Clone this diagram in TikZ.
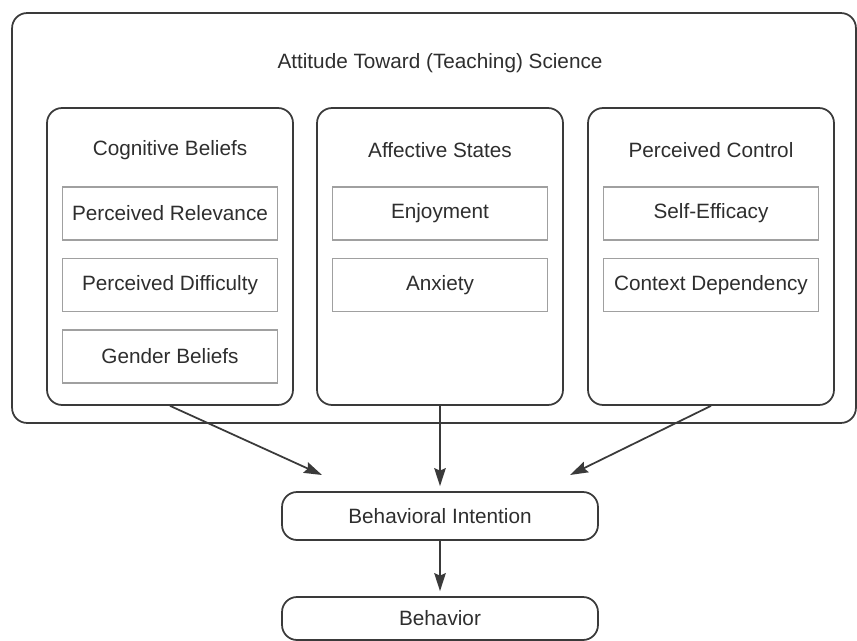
\documentclass[tikz,border=0pt]{standalone}
\usepackage{fontspec}
\setmainfont{Liberation Sans}
\usepackage{tikz}
\usetikzlibrary{arrows.meta,positioning,calc}
\definecolor{linec}{HTML}{3A3A3A}
\definecolor{boxc}{HTML}{A0A0A0}
\definecolor{textc}{HTML}{2E2E2E}
\tikzset{
  >={Stealth[length=3.6mm,width=2.3mm,inset=0.5mm]},
  outerbox/.style={draw=linec,line width=1pt,rounded corners=3mm,minimum width=16.88cm,minimum height=8.2cm,inner sep=0pt},
  groupbox/.style={draw=linec,line width=1pt,rounded corners=3mm,minimum width=4.92cm,minimum height=5.94cm,inner sep=0pt},
  itembox/.style={draw=boxc,line width=1pt,fill=white,minimum width=4.3cm,minimum height=1.06cm,inner sep=0pt,font=\fontsize{11.8}{14}\selectfont,text=textc},
  flowbox/.style={draw=linec,line width=1pt,rounded corners=3mm,minimum width=6.32cm,minimum height=0.96cm,inner sep=0pt,font=\fontsize{11.8}{14}\selectfont,text=textc},
  gtitle/.style={font=\fontsize{11.8}{14}\selectfont,text=textc,inner sep=0pt},
  arr/.style={->,line width=1pt,draw=linec},
}
\begin{document}
\begin{tikzpicture}[x=0.02cm,y=-0.02cm]
  \useasboundingbox (0,0) rectangle (857,641);
  % attitude frame
  \node[outerbox] (att) at (434,218) {};
  \node[gtitle] (atttitle) at (440,63) {Attitude Toward (Teaching) Science};
  % three groups
  \node[groupbox] (cog) at (170,256.5) {};
  \node[groupbox] (aff) at (440,256.5) {};
  \node[groupbox] (ctl) at (711,256.5) {};
  \node[gtitle] (cogt) at (170,150) {Cognitive Beliefs};
  \node[gtitle] (afft) at (440,150) {Affective States};
  \node[gtitle] (ctlt) at (711,150) {Perceived Control};
  \foreach \t [count=\k] in {Perceived Relevance,Perceived Difficulty,Gender Beliefs}
    \node[itembox] (cog-\k) at (170,{142+71.5*\k}) {\t};
  \foreach \t [count=\k] in {Enjoyment,Anxiety}
    \node[itembox] (aff-\k) at (440,{142+71.5*\k}) {\t};
  \foreach \t [count=\k] in {Self-Efficacy,Context Dependency}
    \node[itembox] (ctl-\k) at (711,{142+71.5*\k}) {\t};
  % intention and behavior
  \node[flowbox] (bint) at (440,516) {Behavioral Intention};
  \node[flowbox,minimum height=0.86cm] (beh) at (440,618.5) {Behavior};
  \coordinate (lend) at (322,475);
  \coordinate (rend) at (570,475);
  \draw[arr] (cog.south) -- (lend);
  \draw[arr] (ctl.south) -- (rend);
  \draw[arr,shorten >=0.1cm] (aff.south) -- (bint.north);
  \draw[arr,shorten >=0.1cm] (bint.south) -- (beh.north);
\end{tikzpicture}
\end{document}
